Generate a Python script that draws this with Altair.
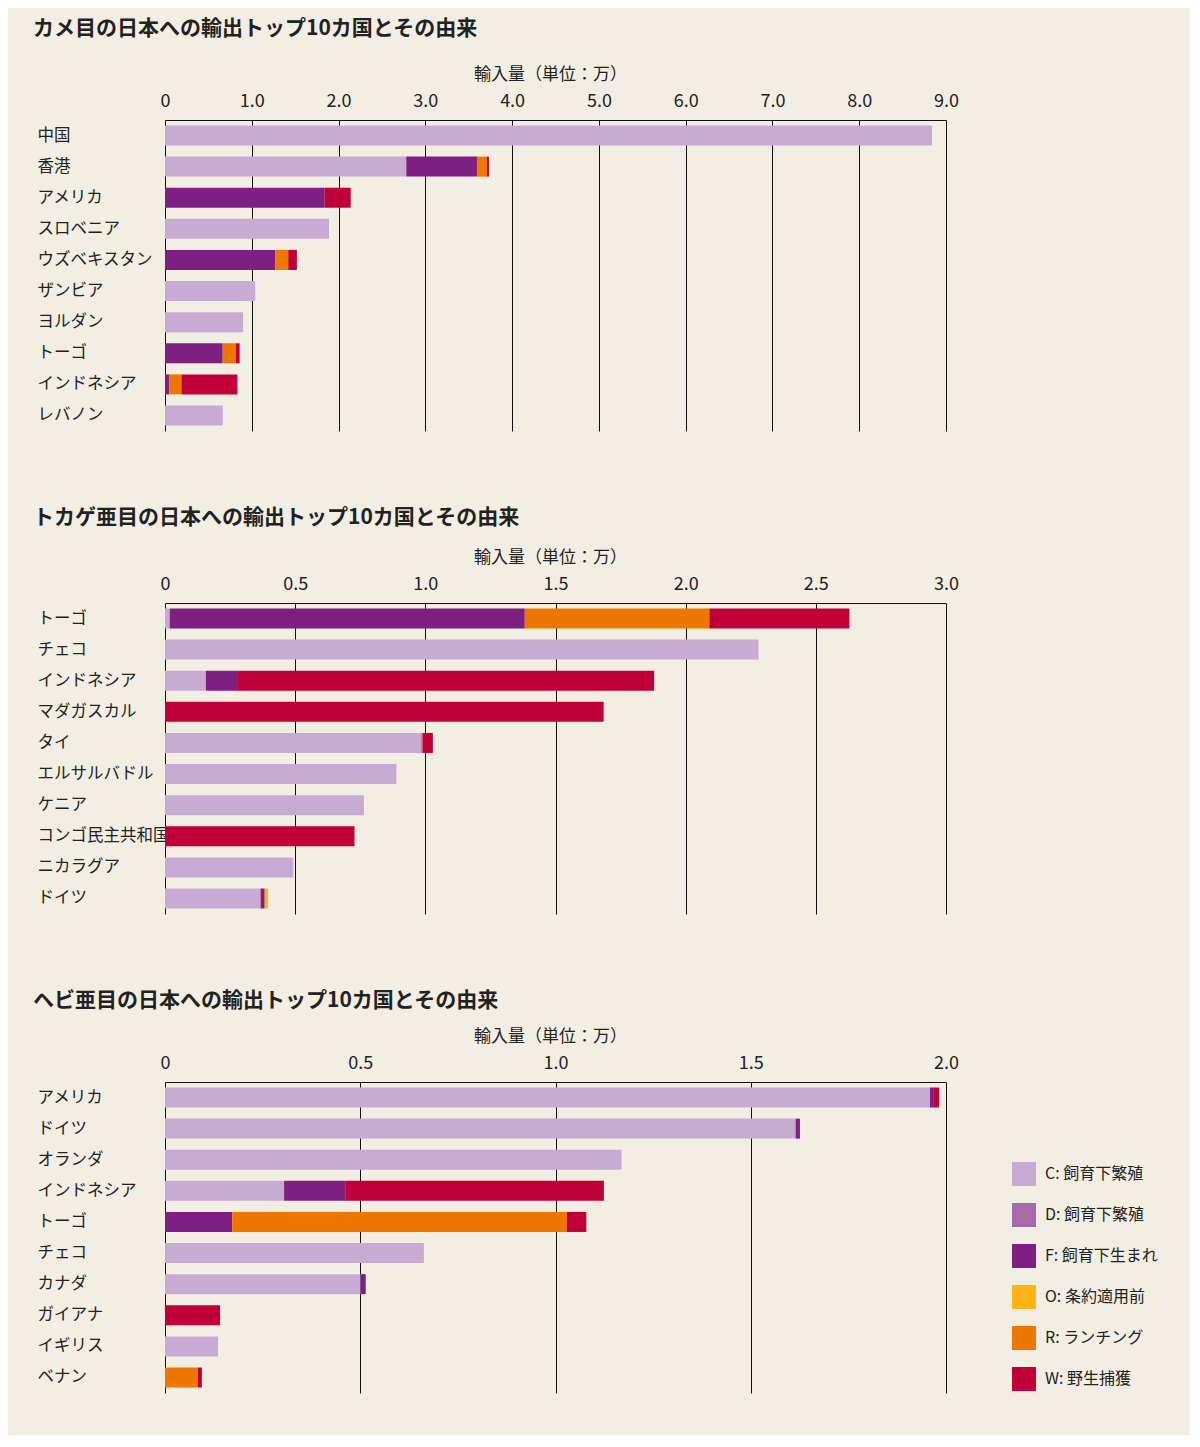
import altair as alt
import pandas as pd

FONT = "Noto Sans CJK JP"
TEXT = "#222222"

SOURCES = ["C: 飼育下繁殖", "D: 飼育下繁殖", "F: 飼育下生まれ", "O: 条約適用前", "R: ランチング", "W: 野生捕獲"]
CODES = ["C", "D", "F", "O", "R", "W"]
COLORS = ["#C8ABD2", "#A66AA6", "#7E1F81", "#FDB515", "#EF7700", "#C1003B"]

# カメ目
turtle_countries = ["中国", "香港", "アメリカ", "スロベニア", "ウズベキスタン", "ザンビア", "ヨルダン", "トーゴ", "インドネシア", "レバノン"]
turtle_C = [8.84, 2.78, 0, 1.89, 0, 1.04, 0.90, 0, 0, 0.665]
turtle_F = [0, 0.815, 1.84, 0, 1.27, 0, 0, 0.665, 0.05, 0]
turtle_R = [0, 0.115, 0, 0, 0.15, 0, 0, 0.15, 0.14, 0]
turtle_W = [0, 0.023, 0.30, 0, 0.10, 0, 0, 0.045, 0.645, 0]

# トカゲ亜目
lizard_countries = ["トーゴ", "チェコ", "インドネシア", "マダガスカル", "タイ", "エルサルバドル", "ケニア", "コンゴ民主共和国", "ニカラグア", "ドイツ"]
lizard_C = [0.018, 2.28, 0.157, 0, 0.984, 0.889, 0.764, 0, 0.493, 0.367]
lizard_F = [1.364, 0, 0.12, 0, 0, 0, 0, 0, 0, 0.016]
lizard_O = [0, 0, 0, 0, 0, 0, 0, 0, 0, 0.013]
lizard_R = [0.709, 0, 0, 0, 0.005, 0, 0, 0, 0, 0]
lizard_W = [0.538, 0, 1.602, 1.685, 0.04, 0, 0, 0.728, 0, 0]

# ヘビ亜目
snake_countries = ["アメリカ", "ドイツ", "オランダ", "インドネシア", "トーゴ", "チェコ", "カナダ", "ガイアナ", "イギリス", "ベナン"]
snake_C = [1.959, 1.615, 1.169, 0.305, 0, 0.663, 0.501, 0, 0.136, 0]
snake_F = [0.010, 0.011, 0, 0.158, 0.172, 0, 0.013, 0, 0, 0]
snake_R = [0, 0, 0, 0, 0.857, 0, 0, 0, 0, 0.0845]
snake_W = [0.0136, 0, 0, 0.661, 0.05, 0, 0, 0.141, 0, 0.010]

titles = [
    "カメ目の日本への輸出トップ10カ国とその由来",
    "トカゲ亜目の日本への輸出トップ10カ国とその由来",
    "ヘビ亜目の日本への輸出トップ10カ国とその由来",
]
axis_title = "輸入量（単位：万）"


def build(countries, series):
    rows = []
    for code, vals in series.items():
        idx = CODES.index(code)
        for c, v in zip(countries, vals):
            rows.append({"country": c, "source": SOURCES[idx], "ord": idx, "value": v})
    return pd.DataFrame(rows)


legend = alt.Legend(
    orient="none", legendX=847, legendY=1042, title=None,
    symbolType="square", symbolSize=576, symbolStrokeWidth=0, symbolOpacity=1,
    labelFont=FONT, labelFontSize=16, labelColor=TEXT, labelOffset=9,
    rowPadding=17, labelLimit=300,
)


def panel(df, countries, title, xmax, step, toff):
    n = int(round(xmax / step))
    ticks = [round(i * step, 2) for i in range(n + 1)]
    return alt.Chart(
        df,
        title=alt.TitleParams(title, anchor="start", frame="bounds", offset=toff, dx=-4,
                              fontSize=21, fontWeight="bold", font=FONT, color=TEXT),
    ).mark_bar().encode(
        x=alt.X("value:Q", stack="zero",
                scale=alt.Scale(domain=[0, xmax], nice=False, zero=True),
                axis=alt.Axis(orient="top", values=ticks,
                              labelExpr="datum.value == 0 ? '0' : format(datum.value, '.1f')",
                              title=axis_title, titleX=385, titlePadding=9,
                              titleFont=FONT, titleFontSize=17, titleFontWeight="normal", titleColor=TEXT,
                              labelFont=FONT, labelFontSize=18, labelColor=TEXT, labelPadding=10,
                              labelFlush=False, labelOverlap=False,
                              ticks=False, domain=True, domainColor="#111", domainWidth=1,
                              grid=True, gridColor="#111", gridWidth=1, gridOpacity=1)),
        y=alt.Y("country:N", sort=countries,
                scale=alt.Scale(paddingInner=0.357, paddingOuter=0.177),
                axis=alt.Axis(title=None, ticks=False, domain=False, grid=False,
                              labelAlign="left", labelPadding=128, labelFont=FONT,
                              labelFontSize=16.5, labelColor=TEXT, labelLimit=200)),
        color=alt.Color("source:N", scale=alt.Scale(domain=SOURCES, range=COLORS), legend=legend),
        order=alt.Order("ord:Q"),
    ).properties(width=781, height=311)


p1 = panel(build(turtle_countries, {"C": turtle_C, "F": turtle_F, "R": turtle_R, "W": turtle_W}),
           turtle_countries, titles[0], 9.0, 1.0, 26)
p2 = panel(build(lizard_countries, {"C": lizard_C, "F": lizard_F, "O": lizard_O, "R": lizard_R, "W": lizard_W}),
           lizard_countries, titles[1], 3.0, 0.5, 20)
p3 = panel(build(snake_countries, {"C": snake_C, "F": snake_F, "R": snake_R, "W": snake_W}),
           snake_countries, titles[2], 2.0, 0.5, 16)

chart = alt.vconcat(p1, p2, p3, spacing=76).properties(
    background="#F2EEE3",
    padding={"left": 25, "top": 10, "right": 32, "bottom": 42},
).configure_view(stroke=None).configure_concat(spacing=76)

chart.save("out.html", embed_options={"renderer": "svg", "actions": False})
